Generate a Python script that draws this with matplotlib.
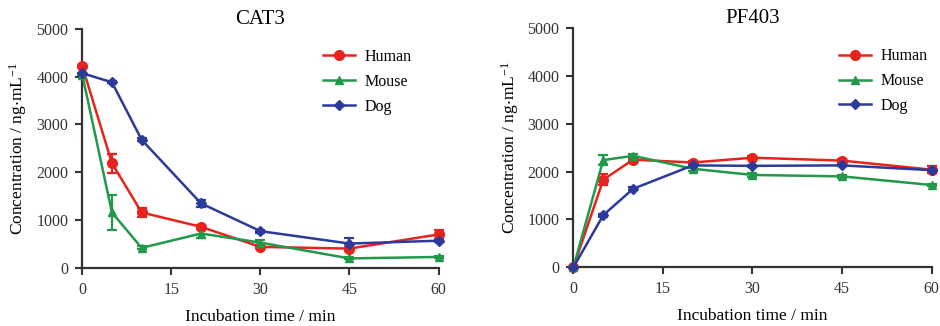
import matplotlib
matplotlib.use("Agg")
import matplotlib.pyplot as plt
from matplotlib.lines import Line2D

plt.rcParams["font.family"] = ["Liberation Serif", "DejaVu Serif"]
plt.rcParams["mathtext.fontset"] = "custom"
plt.rcParams["mathtext.rm"] = "Liberation Serif"
plt.rcParams["mathtext.default"] = "regular"

times = [0, 5, 10, 20, 30, 45, 60]
species = ["Human", "Mouse", "Dog"]
colors = {"Human": "#e8231c", "Mouse": "#22984a", "Dog": "#2b3a9b"}
markers = {"Human": "o", "Mouse": "^", "Dog": "D"}
msizes = {"Human": 7, "Mouse": 6, "Dog": 5.2}

# CAT3 concentration (ng/mL) and SD
cat3_mean = {
    "Human": [4220, 2190, 1160, 860, 440, 405, 700],
    "Mouse": [4040, 1160, 420, 720, 530, 200, 230],
    "Dog": [4070, 3880, 2680, 1350, 770, 510, 570],
}
cat3_err = {
    "Human": [0, 200, 90, 40, 30, 40, 100],
    "Mouse": [0, 360, 30, 100, 60, 20, 20],
    "Dog": [0, 20, 30, 80, 30, 120, 30],
}

# PF403 concentration (ng/mL) and SD
pf403_mean = {
    "Human": [0, 1830, 2250, 2190, 2290, 2230, 2040],
    "Mouse": [0, 2240, 2330, 2060, 1930, 1900, 1720],
    "Dog": [0, 1090, 1640, 2130, 2120, 2130, 2030],
}
pf403_err = {
    "Human": [0, 110, 40, 40, 30, 40, 70],
    "Mouse": [0, 100, 30, 40, 40, 30, 30],
    "Dog": [0, 30, 30, 20, 20, 20, 20],
}

fig = plt.figure(figsize=(9.4, 3.26), dpi=100)
ax1 = fig.add_axes([0.0875, 0.178, 0.379, 0.734])
ax2 = fig.add_axes([0.610, 0.180, 0.381, 0.734])


def draw_panel(ax, title, means, errs, legend_x):
    handles = []
    for name in species:
        ax.errorbar(
            times, means[name], yerr=errs[name],
            color=colors[name], marker=markers[name], markersize=msizes[name],
            linewidth=1.8, elinewidth=1.6, capsize=3.5, capthick=1.6,
            clip_on=False, zorder=3,
        )
        handles.append(Line2D([], [], color=colors[name], marker=markers[name],
                              markersize=msizes[name], linewidth=1.8, label=name))
    ax.set_xlim(0, 60)
    ax.set_ylim(0, 5000)
    ax.set_xticks([0, 15, 30, 45, 60])
    ax.set_yticks([0, 1000, 2000, 3000, 4000, 5000])
    for side in ("top", "right"):
        ax.spines[side].set_visible(False)
    for side in ("left", "bottom"):
        ax.spines[side].set_linewidth(1.6)
        ax.spines[side].set_color("#333333")
    ax.tick_params(direction="out", length=5, width=1.5, labelsize=11.5, colors="#333333", pad=5)
    ax.set_title(title, fontsize=15, pad=0)
    ax.set_xlabel("Incubation time / min", fontsize=12.5, labelpad=8)
    ax.set_ylabel(r"Concentration / ng$\cdot$mL$^{-1}$", fontsize=12.5, labelpad=5)
    ax.legend(
        handles=handles, loc="upper right", bbox_to_anchor=(legend_x, 0.975),
        frameon=False, fontsize=11.5,
        handlelength=2.0, handletextpad=0.6, labelspacing=0.55,
    )


draw_panel(ax1, "CAT3", cat3_mean, cat3_err, 0.965)
draw_panel(ax2, "PF403", pf403_mean, pf403_err, 1.03)

fig.savefig("out.png", dpi=100)
